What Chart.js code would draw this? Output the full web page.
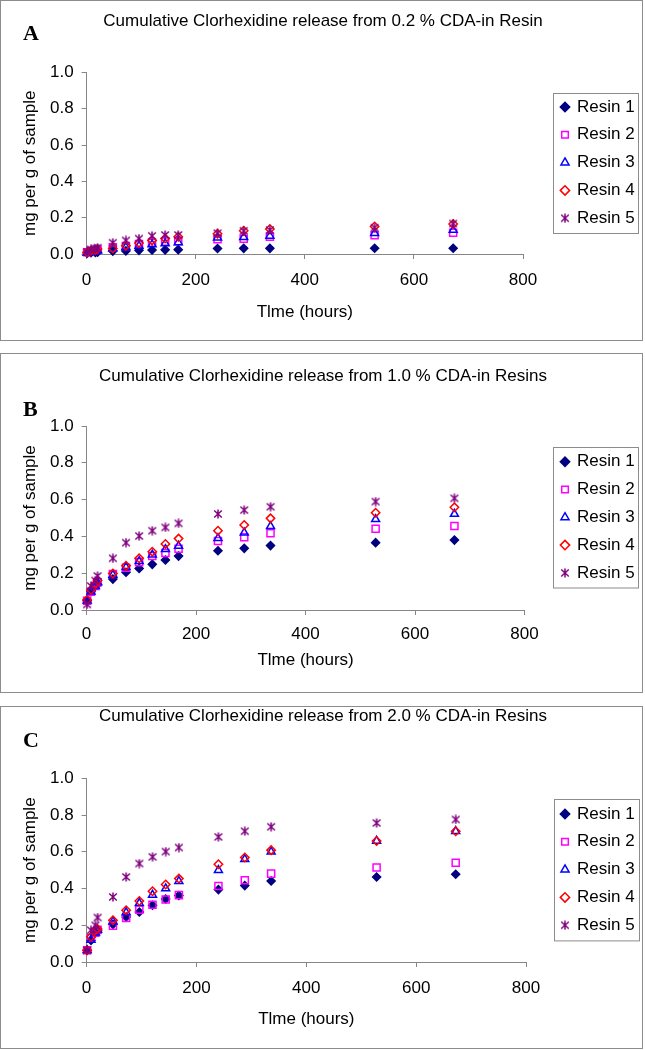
<!DOCTYPE html>
<html>
<head>
<meta charset="utf-8">
<script src="https://cdn.jsdelivr.net/npm/chart.js@4.4.0/dist/chart.umd.min.js"></script>
<style>
  body { margin: 0; background: #fff; }
  .panel { position: absolute; left: 0; width: 643px; box-sizing: border-box; border: 1px solid #8c8c8c; background: #fff; }
  .panel canvas { display: block; }
  .tag { position: absolute; font: bold 22px "Liberation Serif", serif; line-height: 22px; color: #000; }
</style>
</head>
<body>
<div class="panel" style="top:0px;height:341px"><canvas id="cA"></canvas><div class="tag" style="left:22px;top:21px">A</div></div>
<div class="panel" style="top:353px;height:340px"><canvas id="cB"></canvas><div class="tag" style="left:22px;top:44px">B</div></div>
<div class="panel" style="top:706px;height:343px"><canvas id="cC"></canvas><div class="tag" style="left:22px;top:22px">C</div></div>
<script>
const FONT = '"Liberation Sans", Arial, sans-serif'
const FS = 17

// sampling times (hours)
const hours = [1, 8, 16, 20, 48, 72, 96, 120, 144, 168, 240, 288, 336, 528, 672]
const resinNames = ['Resin 1', 'Resin 2', 'Resin 3', 'Resin 4', 'Resin 5']
const yTicks = [0, 0.2, 0.4, 0.6, 0.8, 1.0]
const xTicks = [0, 200, 400, 600, 800]

// 0.2 % CDA
const a1 = [0.005, 0.007, 0.009, 0.010, 0.016, 0.017, 0.020, 0.022, 0.023, 0.024, 0.030, 0.031, 0.031, 0.032, 0.032]
const a2 = [0.010, 0.018, 0.022, 0.025, 0.037, 0.044, 0.055, 0.062, 0.068, 0.070, 0.081, 0.084, 0.095, 0.103, 0.117]
const a3 = [0.006, 0.012, 0.015, 0.018, 0.030, 0.038, 0.045, 0.052, 0.058, 0.064, 0.090, 0.092, 0.100, 0.115, 0.132]
const a4 = [0.010, 0.018, 0.022, 0.028, 0.030, 0.045, 0.060, 0.075, 0.085, 0.095, 0.112, 0.128, 0.138, 0.152, 0.165]
const a5 = [0.012, 0.025, 0.030, 0.035, 0.062, 0.075, 0.085, 0.100, 0.105, 0.105, 0.115, 0.128, 0.132, 0.145, 0.168]

// 1.0 % CDA
const b1 = [0.050, 0.100, 0.130, 0.140, 0.168, 0.205, 0.226, 0.248, 0.272, 0.293, 0.322, 0.335, 0.350, 0.366, 0.380]
const b2 = [0.050, 0.100, 0.130, 0.150, 0.196, 0.230, 0.260, 0.293, 0.310, 0.333, 0.375, 0.395, 0.417, 0.442, 0.457]
const b3 = [0.050, 0.100, 0.130, 0.150, 0.190, 0.232, 0.265, 0.300, 0.330, 0.348, 0.390, 0.420, 0.455, 0.493, 0.522]
const b4 = [0.055, 0.110, 0.140, 0.160, 0.198, 0.241, 0.281, 0.317, 0.359, 0.388, 0.431, 0.462, 0.498, 0.529, 0.558]
const b5 = [0.030, 0.130, 0.160, 0.185, 0.281, 0.366, 0.402, 0.431, 0.449, 0.471, 0.522, 0.543, 0.561, 0.589, 0.607]

// 2.0 % CDA
const c1 = [0.064, 0.118, 0.158, 0.170, 0.205, 0.245, 0.272, 0.309, 0.343, 0.362, 0.394, 0.416, 0.441, 0.463, 0.478]
const c2 = [0.064, 0.130, 0.160, 0.175, 0.197, 0.240, 0.285, 0.312, 0.340, 0.364, 0.414, 0.445, 0.481, 0.514, 0.540]
const c3 = [0.064, 0.120, 0.160, 0.175, 0.220, 0.270, 0.320, 0.365, 0.400, 0.440, 0.500, 0.560, 0.600, 0.659, 0.712]
const c4 = [0.064, 0.137, 0.173, 0.180, 0.227, 0.282, 0.332, 0.385, 0.422, 0.454, 0.532, 0.569, 0.609, 0.659, 0.712]
const c5 = [0.064, 0.173, 0.200, 0.242, 0.354, 0.463, 0.536, 0.572, 0.601, 0.623, 0.681, 0.712, 0.736, 0.757, 0.776]

// excel style "star" marker: vertical bar + X
function asterisk(color) {
  const c = document.createElement('canvas')
  c.width = 10; c.height = 10
  const g = c.getContext('2d')
  g.strokeStyle = color
  g.lineWidth = 1.5
  g.beginPath()
  g.moveTo(5, 0.5); g.lineTo(5, 9.5)
  g.moveTo(1.2, 1.5); g.lineTo(8.8, 8.5)
  g.moveTo(8.8, 1.5); g.lineTo(1.2, 8.5)
  g.stroke()
  return c
}

const colors = ['#000080', '#ff00ff', '#0000ff', '#ff0000', '#800080']
const markers = ['rectRot', 'rect', 'triangle', 'rectRot', asterisk('#800080')]
const radii = [4, 5, 4.6, 4.2, 5]

// page geometry of each boxed panel
const panels = [
  { id: 'cA', top: 0, height: 341, series: [a1, a2, a3, a4, a5],
    title: 'Cumulative Clorhexidine release from 0.2 % CDA-in Resin',
    titleY: 21.7, plotTop: 72.5, plotBottom: 254, plotRight: 523, tickY: 280, axisTitleY: 312, legendY: 107, frame: [553, 93, 85, 140] },
  { id: 'cB', top: 353, height: 340, series: [b1, b2, b3, b4, b5],
    title: 'Cumulative Clorhexidine release from 1.0 % CDA-in Resins',
    titleY: 376, plotTop: 426, plotBottom: 610, plotRight: 524.5, tickY: 634, axisTitleY: 660, legendY: 461.7, frame: [553, 447, 85, 140.5] },
  { id: 'cC', top: 706, height: 343, series: [c1, c2, c3, c4, c5],
    title: 'Cumulative Clorhexidine release from 2.0 % CDA-in Resins',
    titleY: 716.7, plotTop: 778.3, plotBottom: 962, plotRight: 526, tickY: 988, axisTitleY: 1019, legendY: 814, frame: [554, 799.3, 85, 141.4] }
]

const LEGEND_W = 90
const LEGEND_PAD = 10.8
const HALF_LH = FS * 1.2 / 2
const TITLE_CX = 322

// moves the legend and title into place and draws the box round the legend
const legendFrame = {
  id: 'legendFrame',
  afterLayout(chart, args, opts) {
    const lg = chart.legend
    lg.left = opts.left
    lg.right = opts.left + LEGEND_W
    lg.top = opts.top
    lg.bottom = opts.top + 170
    const tb = chart.titleBlock
    tb.left = 0
    tb.right = 2 * TITLE_CX
  },
  afterDraw(chart, args, opts) {
    const ctx = chart.ctx
    const [x, y, w, h] = opts.frame
    ctx.save()
    ctx.strokeStyle = '#8c8c8c'
    ctx.lineWidth = 1
    ctx.strokeRect(Math.round(x) + 0.5, Math.round(y) + 0.5, w, h)
    ctx.restore()
  }
}

panels.forEach(p => {
  const canvas = document.getElementById(p.id)
  const W = 641
  const H = p.height - 2
  canvas.width = W
  canvas.height = H
  const y0 = p.top + 1
  const top = p.plotTop - y0
  const bottom = p.plotBottom - y0
  const right = p.plotRight - 1
  const titleC = p.titleY - y0

  const datasets = resinNames.map((name, i) => ({
    label: name,
    data: hours.map((h, k) => ({ x: h, y: p.series[i][k] })),
    pointStyle: markers[i],
    pointRadius: radii[i],
    pointBorderWidth: 1.5,
    borderColor: colors[i],
    backgroundColor: i === 0 ? colors[i] : 'rgba(0,0,0,0)',
    clip: false,
    order: 5 - i
  }))

  new Chart(canvas, {
    type: 'scatter',
    data: { datasets },
    options: {
      responsive: false,
      animation: false,
      events: [],
      layout: { padding: { left: 0, top: 0, bottom: 0, right: W - LEGEND_W - right } },
      plugins: {
        title: {
          display: true,
          text: p.title,
          color: '#000',
          font: { family: FONT, size: FS, weight: 'normal' },
          padding: { top: titleC - HALF_LH, bottom: top - titleC - HALF_LH }
        },
        legend: {
          position: 'right',
          align: 'start',
          maxWidth: LEGEND_W,
          labels: {
            usePointStyle: true,
            boxWidth: 7,
            boxHeight: 6.6,
            padding: LEGEND_PAD,
            color: '#000',
            font: { family: FONT, size: 17 },
            sort: (a, b) => a.datasetIndex - b.datasetIndex
          }
        },
        tooltip: { enabled: false },
        legendFrame: {
          left: 549.7,
          top: p.legendY - y0 - 8.5 - LEGEND_PAD,
          frame: [p.frame[0] - 1, p.frame[1] - y0, p.frame[2], p.frame[3]]
        }
      },
      scales: {
        x: {
          type: 'linear',
          min: xTicks[0],
          max: xTicks[xTicks.length - 1],
          afterBuildTicks: s => { s.ticks = xTicks.map(v => ({ value: v })) },
          afterFit: s => { s.height = H - bottom },
          grid: { drawOnChartArea: false, tickLength: 5, color: '#868686' },
          border: { color: '#868686' },
          ticks: { color: '#000', padding: p.tickY - y0 - bottom - 5 - HALF_LH, font: { family: FONT, size: FS } },
          title: {
            display: true,
            text: 'Tlme (hours)',
            color: '#000',
            font: { family: FONT, size: FS },
            padding: { top: 4, bottom: H - (p.axisTitleY - y0) - HALF_LH }
          }
        },
        y: {
          min: yTicks[0],
          max: yTicks[yTicks.length - 1],
          afterBuildTicks: s => { s.ticks = yTicks.map(v => ({ value: v })) },
          afterFit: s => { s.width = 85.6 },
          grid: { drawOnChartArea: false, tickLength: 5, color: '#868686' },
          border: { color: '#868686' },
          ticks: { color: '#000', padding: 8, font: { family: FONT, size: FS }, callback: v => v.toFixed(1) },
          title: {
            display: true,
            text: 'mg per g of sample',
            color: '#000',
            font: { family: FONT, size: FS },
            padding: { top: 29 - HALF_LH, bottom: 0 }
          }
        }
      }
    },
    plugins: [legendFrame]
  })
})
</script>
</body>
</html>
